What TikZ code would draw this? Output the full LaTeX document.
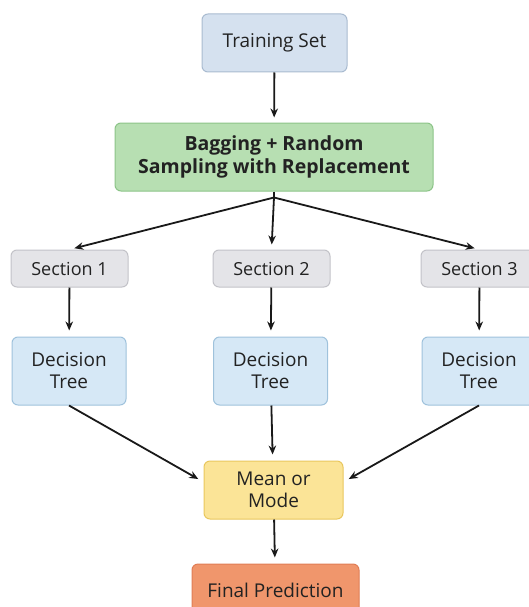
\documentclass[tikz,border=0pt]{standalone}
\usepackage{fontspec}
\setmainfont{Open Sans}
\usetikzlibrary{arrows.meta}

\definecolor{trainfill}{HTML}{D5E1EF}
\definecolor{trainline}{HTML}{A9BBD0}
\definecolor{bagfill}{HTML}{B7DFB2}
\definecolor{bagline}{HTML}{8CC488}
\definecolor{secfill}{HTML}{E4E4E8}
\definecolor{secline}{HTML}{C2C2C8}
\definecolor{treefill}{HTML}{D6E8F6}
\definecolor{treeline}{HTML}{9FC2DC}
\definecolor{meanfill}{HTML}{FBE497}
\definecolor{meanline}{HTML}{E9C75E}
\definecolor{finalfill}{HTML}{F0966C}
\definecolor{finalline}{HTML}{E07D55}
\definecolor{inktext}{HTML}{222222}

\begin{document}
\begin{tikzpicture}[x=1pt,y=-1pt,
    box/.style={draw, line width=1pt, rounded corners=6pt, align=center,
      text=inktext, font=\fontsize{19}{22}\selectfont, inner sep=0pt},
    arr/.style={-{Stealth[length=9pt,width=7.5pt]}, line width=1.8pt, black!90}]

  % page, cut as in the original
  \useasboundingbox (0,0) rectangle (529,607);
  \clip (0,0) rectangle (529,607);

  % top
  \node[box, fill=trainfill, draw=trainline, minimum width=145pt, minimum height=58pt] (train) at (274.5,43) {Training Set};
  \node[box, fill=bagfill, draw=bagline, minimum width=318pt, minimum height=68pt,
    font=\fontsize{19.5}{23}\selectfont\bfseries] (bag) at (274,157) {Bagging + Random\\Sampling with Replacement};

  % sections
  \def\secW{117pt}
  \node[box, fill=secfill, draw=secline, minimum width=\secW, minimum height=37pt, font=\fontsize{18}{22}\selectfont] (sec1) at (69.5,268.5) {Section 1};
  \node[box, fill=secfill, draw=secline, minimum width=\secW, minimum height=37pt, font=\fontsize{18}{22}\selectfont] (sec2) at (271.5,268.5) {Section 2};
  \node[box, fill=secfill, draw=secline, minimum width=\secW, minimum height=37pt, font=\fontsize{18}{22}\selectfont] (sec3) at (479.5,268.5) {Section 3};

  % trees
  \node[box, fill=treefill, draw=treeline, minimum width=114pt, minimum height=68pt] (tree1) at (69,371) {Decision\\Tree};
  \node[box, fill=treefill, draw=treeline, minimum width=114pt, minimum height=68pt] (tree2) at (270.5,371) {Decision\\Tree};
  \node[box, fill=treefill, draw=treeline, minimum width=114pt, minimum height=68pt] (tree3) at (479,371) {Decision\\Tree};

  % bottom
  \node[box, fill=meanfill, draw=meanline, minimum width=139pt, minimum height=58pt] (mean) at (273.5,490) {Mean or\\Mode};
  \node[box, fill=finalfill, draw=finalline, minimum width=167pt, minimum height=52pt] (final) at (275.5,590) {Final Prediction};

  % arrows
  \coordinate (fork) at ([yshift=-6pt]bag.south);
  \draw[arr, shorten >=5pt] (train) -- (bag);
  \draw[line width=1.8pt, black!90] (bag.south) -- (fork);
  \foreach \i in {1,2,3}{
    \draw[arr, shorten >=5pt] (fork) -- (sec\i.north);% fan out
    \draw[arr, shorten >=6pt] (sec\i) -- (tree\i);
  }
  \draw[arr, shorten >=6pt] (tree1.south) -- ([yshift=8pt]mean.west);
  \draw[arr, shorten >=6pt] (tree2) -- (mean);
  \draw[arr, shorten >=6pt] (tree3.south) -- ([yshift=8pt]mean.east);
  \draw[arr, shorten >=6pt] (mean) -- (final);

\end{tikzpicture}
\end{document}
